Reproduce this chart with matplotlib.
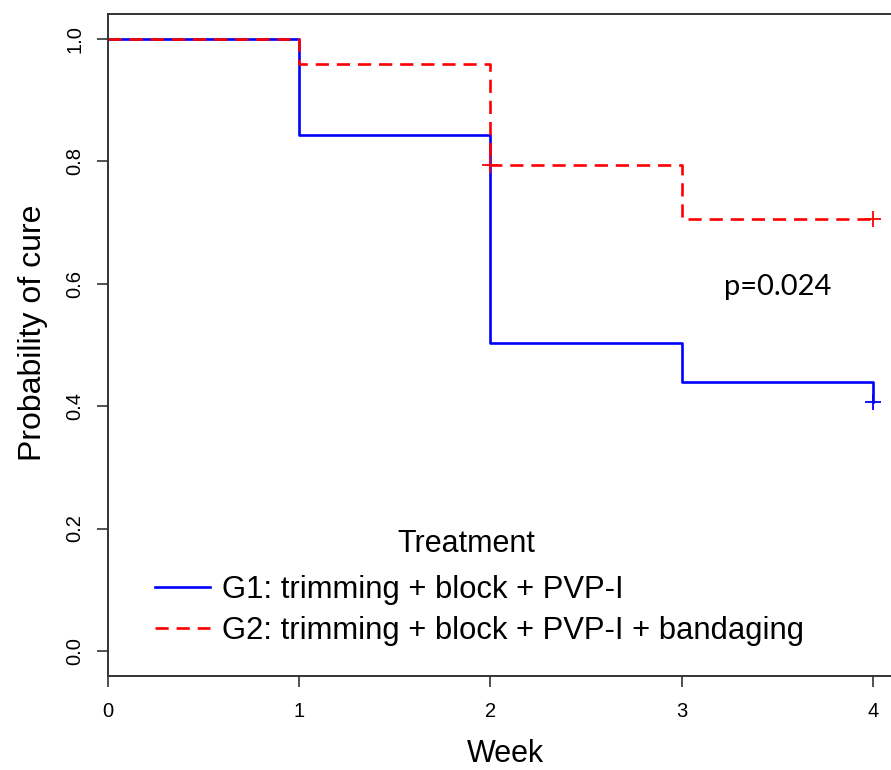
import matplotlib
matplotlib.use("Agg")
import matplotlib.pyplot as plt

# Kaplan-Meier estimates
g1_weeks = [0, 1, 2, 3, 4]
g1_surv = [1.0, 0.844, 0.503, 0.440, 0.407]
g1_censor_weeks = [4]
g1_censor_surv = [0.407]

g2_weeks = [0, 1, 2, 3, 4]
g2_surv = [1.0, 0.960, 0.794, 0.706, 0.706]
g2_censor_weeks = [2, 4]
g2_censor_surv = [0.794, 0.706]

labels = ["G1: trimming + block + PVP-I",
          "G2: trimming + block + PVP-I + bandaging"]
legend_title = "Treatment"
x_ticks = [0, 1, 2, 3, 4]
y_ticks = [0.0, 0.2, 0.4, 0.6, 0.8, 1.0]
p_text = "p=0.024"

plt.rcParams["font.family"] = ["Liberation Sans", "DejaVu Sans"]

W, H = 891, 770
fig = plt.figure(figsize=(W / 100, H / 100), dpi=100)

# axes: x=0 at px 108, x=4 at px 873 ; y=1 at px 39, y=0 at px 651
px_per_x = (873 - 108) / 4
x_max = 4.16
ax_w = x_max * px_per_x
ax_h = 676 - 14
ax = fig.add_axes([108 / W, 1 - 676 / H, ax_w / W, ax_h / H])

ax.step(g1_weeks, g1_surv, where="post", color="#0000FF", lw=1.9, label=labels[0])
ax.step(g2_weeks, g2_surv, where="post", color="#FF0000", lw=1.9,
        linestyle=(0, (5, 3)), label=labels[1])
ax.plot(g1_censor_weeks, g1_censor_surv, "+", color="#0000FF", ms=11, mew=1.3)
ax.plot(g2_censor_weeks, g2_censor_surv, "+", color="#FF0000", ms=11, mew=1.3)

ax.set_xlim(0, x_max)
ax.set_ylim(-0.041, 1.041)
ax.set_xticks(x_ticks)
ax.set_yticks(y_ticks)
ax.set_yticklabels([f"{v:.1f}" for v in y_ticks], rotation=90, va="center")
ax.tick_params(axis="x", length=8, width=1.2, pad=11, labelsize=14.5, colors="#333333",
               labelcolor="black")
ax.tick_params(axis="y", length=8, width=1.2, pad=9, labelsize=14.5, colors="#333333",
               labelcolor="black")

for side in ["left", "bottom", "top"]:
    ax.spines[side].set_linewidth(1.4)
    ax.spines[side].set_color("#333333")
ax.spines["right"].set_visible(False)

ax.set_xlabel("Week", fontsize=22, labelpad=13)
ax.set_ylabel("Probability of cure", fontsize=23)
ax.yaxis.set_label_coords((48 - 108) / ax_w, (676 - 333) / ax_h)

ax.text(3.5, 0.595, p_text, fontsize=21, family=["Lato", "DejaVu Sans"],
        ha="center", va="center")

# legend title placed on its own, entries below it
ax.text((466 - 108) / ax_w, (676 - 544) / ax_h, legend_title, transform=ax.transAxes,
        fontsize=22, ha="center", va="center")
ax.legend(loc="lower left", frameon=False,
          bbox_to_anchor=((127 - 108) / ax_w, 0.003),
          fontsize=22.3, handlelength=1.77, handletextpad=0.39, labelspacing=0.37)

fig.savefig("out.png", dpi=100)
